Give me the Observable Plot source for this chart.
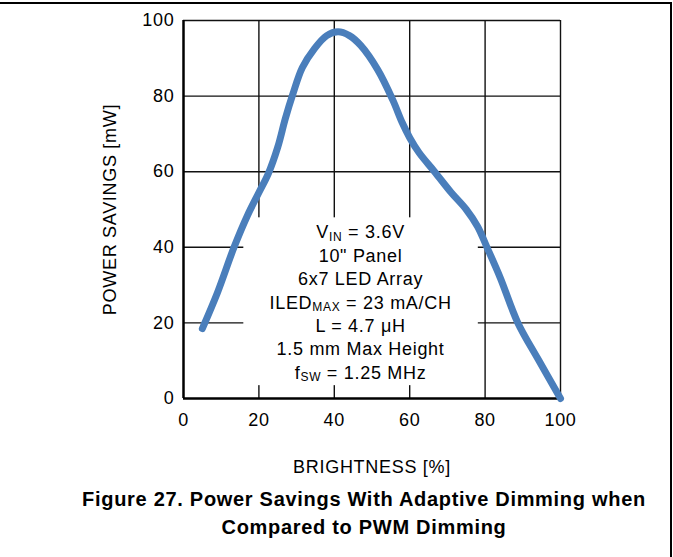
<!DOCTYPE html>
<html>
<head>
<meta charset="utf-8">
<script src="https://cdn.jsdelivr.net/npm/d3@7"></script>
<script src="https://cdn.jsdelivr.net/npm/@observablehq/plot@0.6"></script>
<style>
  html, body { margin: 0; padding: 0; background: #fff; }
  #page { position: relative; width: 673px; height: 557px; overflow: hidden; font-family: "Liberation Sans", Arial, sans-serif; }
  #frame { position: absolute; left: 0; top: 2px; width: 672px; height: 560px; box-sizing: border-box; border-top: 2px solid #000; border-right: 2px solid #000; }
  #chart { position: absolute; left: 0; top: 0; }
  #title { position: absolute; left: 0; width: 728px; top: 485px; text-align: center; font-weight: bold; font-size: 20px; line-height: 28px; letter-spacing: 0.7px; color: #000; }
</style>
</head>
<body>
<div id="page">
  <div id="frame"></div>
  <div id="chart"></div>
  <div id="title"></div>
</div>
<script>
// ---- data ----
const brightness = [5, 9, 13.4, 17, 20, 22.5, 25, 27, 29, 31.5, 34.7, 38, 41, 44, 47, 51.5, 55.5, 58, 60, 62.5, 66.6, 71, 75, 78, 80.5, 84, 88.7, 94, 100];
const savings    = [18.5, 28, 40, 48.5, 54.5, 59.5, 66.5, 74, 80.5, 87.5, 92.5, 96, 97, 96, 93.4, 87, 79, 73, 69, 65, 60, 54.5, 50, 45.5, 40, 32, 20, 10.5, 0];
const xTicks = [0, 20, 40, 60, 80, 100];
const yTicks = [0, 20, 40, 60, 80, 100];
const xLabel = "BRIGHTNESS [%]";
const yLabel = "POWER SAVINGS [mW]";
const titleLines = ["Figure 27. Power Savings With Adaptive Dimming when", "Compared to PWM Dimming"];
// annotation lines: [main, subscript, rest]
const noteLines = [
  ["V", "IN", " = 3.6V"],
  ["10\" Panel"],
  ["6x7 LED Array"],
  ["ILED", "MAX", " = 23 mA/CH"],
  ["L = 4.7 \u03bcH"],
  ["1.5 mm Max Height"],
  ["f", "SW", " = 1.25 MHz"]
];

const points = brightness.map((b, i) => ({b, s: savings[i]}));

// annotation drawn as a render-function mark (needs tspans for subscripts)
function noteMark(index, scales) {
  const g = d3.create("svg:g")
    .attr("font-size", 18)
    .attr("text-anchor", "middle")
    .attr("fill", "#000");
  const x0 = scales.x(47.1), y0 = scales.y(42.2);
  noteLines.forEach((parts, i) => {
    const t = g.append("text").attr("x", x0).attr("y", y0 + i * 23.4);
    t.append("tspan").text(parts[0]);
    if (parts.length > 1) {
      t.append("tspan").attr("font-size", 12).attr("dy", 2.5).text(parts[1]);
      t.append("tspan").attr("dy", -2.5).text(parts[2]);
    }
  });
  return g.node();
}

const chart = Plot.plot({
  width: 673,
  height: 485,
  marginTop: 20,
  marginLeft: 183,
  marginRight: 113,
  marginBottom: 87,
  style: {fontFamily: "Liberation Sans, Arial, sans-serif", fontSize: "18px", letterSpacing: "0.7px", color: "#000", background: "transparent", overflow: "visible"},
  x: {domain: [0, 100], ticks: xTicks, tickSize: 0, tickPadding: 15, label: null, tickFormat: d => String(d)},
  y: {domain: [0, 100], ticks: yTicks, tickSize: 0, tickPadding: 9, label: null, tickFormat: d => String(d)},
  marks: [
    Plot.ruleX(xTicks.filter(d => d > 0), {stroke: "#111", strokeWidth: 1.4}),
    Plot.ruleY(yTicks.filter(d => d > 0), {stroke: "#111", strokeWidth: 1.4}),
    Plot.rect([0], {x1: 16, x2: 78.2, y1: 3.4, y2: 47.8, fill: "white"}),
    Plot.ruleX([0], {stroke: "#000", strokeWidth: 2.5}),
    Plot.ruleY([0], {stroke: "#000", strokeWidth: 2.5}),
    Plot.line(points, {x: "b", y: "s", curve: "catmull-rom", stroke: "#4a7ebb", strokeWidth: 7, strokeLinecap: "round", strokeLinejoin: "round"}),
    noteMark,
    Plot.text([xLabel], {text: d => d, frameAnchor: "bottom", dy: 74, fontSize: 18}),
    Plot.text([yLabel], {text: d => d, frameAnchor: "left", textAnchor: "middle", rotate: -90, dx: -73, fontSize: 18})
  ]
});
document.getElementById("chart").appendChild(chart);
document.getElementById("title").innerHTML = titleLines.map(s => `<div>${s}</div>`).join("");
</script>
</body>
</html>
